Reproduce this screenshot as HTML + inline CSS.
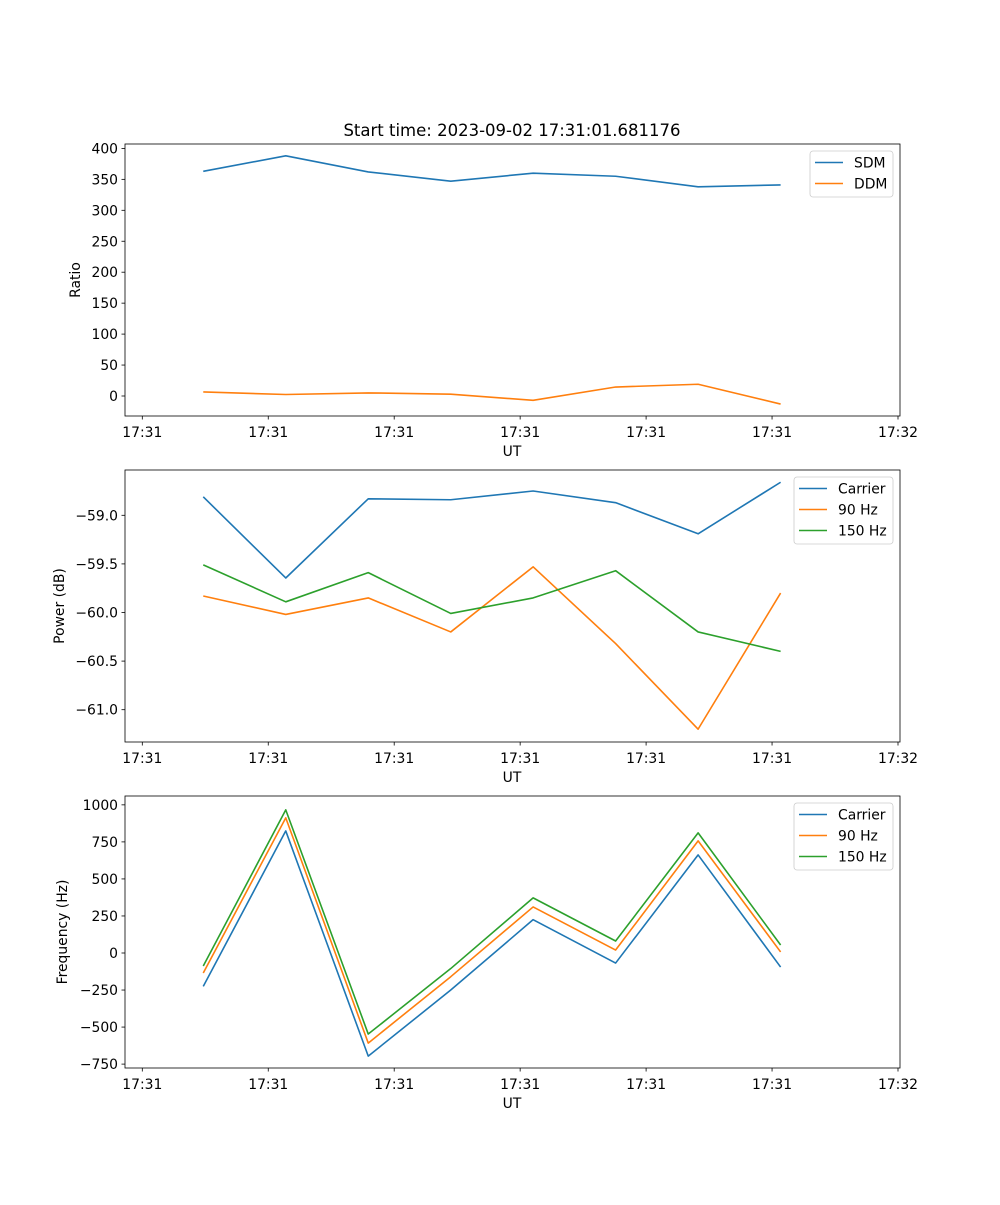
<!DOCTYPE html>
<html><head><meta charset="utf-8"><style>
body{margin:0;background:#fff;}
svg text{font-family:"DejaVu Sans","Liberation Sans",sans-serif;fill:#000;}
</style></head><body>
<svg id="fig" width="1000" height="1200" viewBox="0 0 1000 1200" xmlns="http://www.w3.org/2000/svg">
<rect width="1000" height="1200" fill="#fff"/>
<text x="512" y="136" font-size="16.5" text-anchor="middle">Start time: 2023-09-02 17:31:01.681176</text>
</svg>
<script>
const times = [0.484, 1.139, 1.794, 2.449, 3.103, 3.758, 4.413, 5.068];
const xTickVals = [0, 1, 2, 3, 4, 5, 6];
const xTickLabels = ["17:31","17:31","17:31","17:31","17:31","17:31","17:32"];
const sdm = [363, 388, 362, 347, 360, 355, 338, 341];
const ddm = [6.5, 2.4, 5, 3, -7, 14.5, 19, -13];
const pCarrier = [-58.81, -59.645, -58.83, -58.84, -58.75, -58.87, -59.19, -58.66];
const p90 = [-59.83, -60.02, -59.85, -60.2, -59.53, -60.32, -61.2, -59.8];
const p150 = [-59.51, -59.89, -59.59, -60.01, -59.85, -59.57, -60.2, -60.4];
const fCarrier = [-225, 824, -696, -250, 225, -68, 662, -95];
const f90 = [-135, 912, -608, -160, 311, 20, 757, 7];
const f150 = [-88, 966, -547, -105, 372, 81, 811, 54];
const ticks1 = [0, 50, 100, 150, 200, 250, 300, 350, 400];
const ticks2 = [-61.0, -60.5, -60.0, -59.5, -59.0];
const ticks3 = [-750, -500, -250, 0, 250, 500, 750, 1000];

const NS = "http://www.w3.org/2000/svg";
const svg = document.getElementById('fig');
function mk(tag, attrs, parent){
  const e = document.createElementNS(NS, tag);
  for (const k in attrs) e.setAttribute(k, attrs[k]);
  (parent||svg).appendChild(e); return e;
}
const L = 125, R = 900;
const xs = t => 142.3 + 125.95 * t;

function panel(cfg){
  const g = mk('g', {});
  
  
  const ys = v => cfg.y0px + (v - cfg.y0) * cfg.k;
  cfg.yticks.forEach(v => {
    const y = ys(v);
    const t = mk('line', {x1: L-3.5, x2: L, y1: y, y2: y, stroke: '#000', 'stroke-width': 0.8}, g);
    
    
    const tx = mk('text', {x: L-7, y: y+5, 'font-size': 13.9, 'text-anchor': 'end'}, g);
    
    
    tx.textContent = cfg.fmt(v).replace('-', '\u2212');
  });
  xTickVals.forEach((v, i) => {
    const x = xs(v);
    const t = mk('line', {x1: x, x2: x, y1: cfg.bot, y2: cfg.bot+3.5, stroke: '#000', 'stroke-width': 0.8}, g);
    
    
    const tx = mk('text', {x: x, y: cfg.bot+21, 'font-size': 13.9, 'text-anchor': 'middle'}, g);
    
    
    tx.textContent = xTickLabels[i];
  });
  const xl = mk('text', {x: 512, y: cfg.bot+40, 'font-size': 13.9, 'text-anchor': 'middle'}, g);
  
  
  xl.textContent = 'UT';
  const cy = (cfg.top + cfg.bot)/2;
  const yl = mk('text', {x: cfg.ylx, y: cy, 'font-size': 13.9, 'text-anchor': 'middle', transform: `rotate(-90 ${cfg.ylx} ${cy})`}, g);
  
  
  yl.textContent = cfg.ylabel;
  cfg.series.forEach(s => {
    const p = mk('polyline', {points: s.data.map((v,i)=>xs(times[i]).toFixed(2)+','+ys(v).toFixed(2)).join(' '), fill: 'none', stroke: s.color, 'stroke-width': 1.6, 'stroke-linejoin': 'round'}, g);
    
    
  });
  const fr = mk('rect', {x: L, y: cfg.top, width: R-L, height: cfg.bot-cfg.top, fill: 'none', stroke: '#000', 'stroke-width': 0.8}, g);
  
  
  const lw = cfg.legW, lx = 893 - lw, ly = cfg.top + 7;
  const lg = mk('g', {}, g);
  
  
  mk('rect', {x: lx, y: ly, width: lw, height: 4 + 21*cfg.series.length, rx: 3, fill: '#fff', 'fill-opacity': 0.8, stroke: '#ccc', 'stroke-width': 0.8}, lg);
  cfg.series.forEach((s, i) => {
    const ry = ly + 11.5 + 21*i;
    const e = mk('g', {}, lg);
    
    
    mk('line', {x1: lx+5, x2: lx+33, y1: ry, y2: ry, stroke: s.color, 'stroke-width': 1.6}, e);
    const t = mk('text', {x: lx+44, y: ry+5, 'font-size': 13.9}, e);
    t.textContent = s.label;
  });
}
const C1 = '#1f77b4', C2 = '#ff7f0e', C3 = '#2ca02c';
panel({name: 'ratio-panel', top: 144, bot: 416, y0: 0, y0px: 396, k: -0.619, yticks: ticks1, fmt: v => String(v), ylabel: 'Ratio', ylx: 80, legW: 83,
  series: [{id:'sdm', label:'SDM', data: sdm, color: C1}, {id:'ddm', label:'DDM', data: ddm, color: C2}]});
panel({name: 'power-panel', top: 470, bot: 742, y0: -59.0, y0px: 515.3, k: -97.2, yticks: ticks2, fmt: v => v.toFixed(1), ylabel: 'Power (dB)', ylx: 64, legW: 99,
  series: [{id:'carrier-power', label:'Carrier', data: pCarrier, color: C1}, {id:'hz90-power', label:'90 Hz', data: p90, color: C2}, {id:'hz150-power', label:'150 Hz', data: p150, color: C3}]});
panel({name: 'frequency-panel', top: 796, bot: 1068, y0: 0, y0px: 953, k: -0.14815, yticks: ticks3, fmt: v => String(v), ylabel: 'Frequency (Hz)', ylx: 67, legW: 99,
  series: [{id:'carrier-freq', label:'Carrier', data: fCarrier, color: C1}, {id:'hz90-freq', label:'90 Hz', data: f90, color: C2}, {id:'hz150-freq', label:'150 Hz', data: f150, color: C3}]});
</script>
</body></html>
